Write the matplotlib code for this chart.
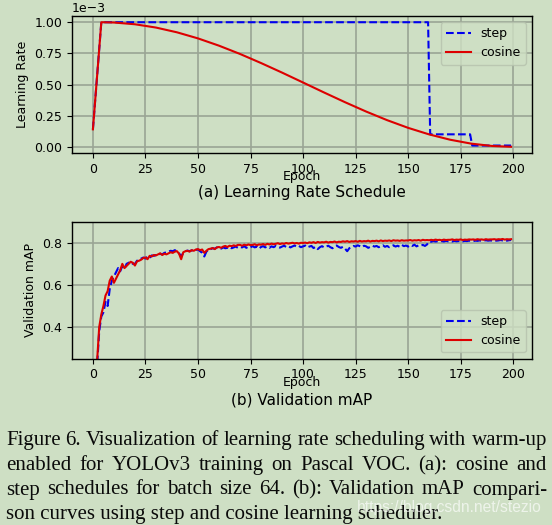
import matplotlib
matplotlib.use('Agg')
import matplotlib.pyplot as plt

# ---------------- data ----------------
step_epochs = [0, 4, 159.5, 160.5, 179.5, 180.5, 199]
step_lr = [0.14e-3, 1.0e-3, 1.0e-3, 0.1e-3, 0.1e-3, 0.01e-3, 0.01e-3]

cos_epochs = [0, 4, 10, 20, 30, 40, 50, 60, 70, 80, 90, 100, 110, 120,
              130, 140, 150, 160, 170, 180, 190, 199]
cos_lr = [0.14e-3, 1.0e-3, 0.9977e-3, 0.9836e-3, 0.9572e-3, 0.9190e-3,
          0.8702e-3, 0.8117e-3, 0.7453e-3, 0.6724e-3, 0.5956e-3, 0.5160e-3,
          0.4359e-3, 0.3577e-3, 0.2830e-3, 0.2138e-3, 0.1520e-3, 0.0994e-3,
          0.0567e-3, 0.0253e-3, 0.0064e-3, 0.0001e-3]

map_epochs = list(range(200))
map_cosine = [
    0.02, 0.10, 0.24, 0.40, 0.46, 0.50, 0.55, 0.57, 0.62, 0.64,
    0.61, 0.63, 0.65, 0.67, 0.70, 0.68, 0.69, 0.70, 0.71, 0.705,
    0.692, 0.712, 0.715, 0.72, 0.728, 0.73, 0.722, 0.738, 0.735, 0.742,
    0.74, 0.745, 0.75, 0.742, 0.748, 0.745, 0.75, 0.755, 0.752, 0.758,
    0.76, 0.748, 0.722, 0.755, 0.76, 0.762, 0.758, 0.765, 0.762, 0.768,
    0.77, 0.765, 0.768, 0.752, 0.762, 0.77, 0.772, 0.775, 0.77, 0.778,
    0.78, 0.776, 0.782, 0.785, 0.78, 0.786, 0.784, 0.788, 0.785, 0.79,
    0.79, 0.786, 0.791, 0.788, 0.792, 0.789, 0.79, 0.793, 0.788, 0.792,
    0.791, 0.794, 0.79, 0.795, 0.792, 0.796, 0.793, 0.795, 0.798, 0.794,
    0.797, 0.795, 0.799, 0.796, 0.798, 0.80, 0.797, 0.799, 0.796, 0.80,
    0.799, 0.801, 0.798, 0.802, 0.80, 0.803, 0.799, 0.804, 0.801, 0.803,
    0.802, 0.805, 0.801, 0.804, 0.803, 0.806, 0.802, 0.805, 0.804, 0.807,
    0.805, 0.808, 0.804, 0.807, 0.806, 0.808, 0.805, 0.809, 0.806, 0.808,
    0.807, 0.81, 0.806, 0.809, 0.808, 0.81, 0.807, 0.811, 0.808, 0.81,
    0.809, 0.811, 0.808, 0.812, 0.81, 0.811, 0.809, 0.812, 0.81, 0.811,
    0.811, 0.813, 0.81, 0.812, 0.811, 0.813, 0.81, 0.814, 0.812, 0.813,
    0.812, 0.814, 0.812, 0.815, 0.813, 0.814, 0.812, 0.815, 0.813, 0.814,
    0.814, 0.816, 0.813, 0.815, 0.814, 0.816, 0.813, 0.815, 0.814, 0.816,
    0.815, 0.816, 0.814, 0.817, 0.815, 0.816, 0.814, 0.817, 0.815, 0.816,
    0.816, 0.817, 0.815, 0.817, 0.816, 0.818, 0.815, 0.817, 0.816, 0.817,
]
map_step = [
    0.02, 0.09, 0.22, 0.38, 0.45, 0.47, 0.52, 0.50, 0.58, 0.62,
    0.64, 0.66, 0.68, 0.665, 0.69, 0.675, 0.70, 0.705, 0.71, 0.70,
    0.70, 0.715, 0.72, 0.725, 0.73, 0.725, 0.735, 0.728, 0.74, 0.738,
    0.742, 0.74, 0.748, 0.745, 0.752, 0.755, 0.758, 0.762, 0.76, 0.765,
    0.758, 0.75, 0.735, 0.752, 0.76, 0.763, 0.76, 0.764, 0.761, 0.766,
    0.768, 0.76, 0.752, 0.735, 0.758, 0.768, 0.77, 0.774, 0.772, 0.778,
    0.776, 0.772, 0.778, 0.774, 0.776, 0.78, 0.774, 0.778, 0.782, 0.776,
    0.78, 0.778, 0.784, 0.776, 0.782, 0.779, 0.784, 0.778, 0.782, 0.772,
    0.78, 0.784, 0.778, 0.782, 0.776, 0.783, 0.779, 0.785, 0.78, 0.777,
    0.782, 0.786, 0.78, 0.784, 0.778, 0.783, 0.787, 0.781, 0.785, 0.779,
    0.783, 0.787, 0.778, 0.782, 0.785, 0.775, 0.781, 0.77, 0.779, 0.784,
    0.778, 0.782, 0.786, 0.779, 0.774, 0.783, 0.787, 0.78, 0.776, 0.781,
    0.772, 0.76, 0.774, 0.78, 0.785, 0.782, 0.788, 0.784, 0.779, 0.786,
    0.783, 0.776, 0.781, 0.786, 0.782, 0.785, 0.779, 0.784, 0.788, 0.781,
    0.785, 0.779, 0.783, 0.788, 0.782, 0.786, 0.781, 0.79, 0.784, 0.787,
    0.782, 0.789, 0.785, 0.791, 0.783, 0.788, 0.786, 0.79, 0.785, 0.792,
    0.806, 0.805, 0.808, 0.806, 0.807, 0.805, 0.808, 0.806, 0.809, 0.807,
    0.808, 0.806, 0.809, 0.807, 0.808, 0.81, 0.807, 0.809, 0.808, 0.81,
    0.809, 0.808, 0.81, 0.809, 0.811, 0.809, 0.81, 0.812, 0.81, 0.811,
    0.81, 0.812, 0.81, 0.811, 0.813, 0.811, 0.812, 0.81, 0.812, 0.813,
]

caption_lines = [
    "Figure 6. Visualization of learning rate scheduling with warm-up",
    "enabled for YOLOv3 training on Pascal VOC. (a): cosine and",
    "step schedules for batch size 64. (b): Validation mAP compari-",
    "son curves using step and cosine learning scheduler.",
]
watermark = "https://blog.csdn.net/stezio"

# ---------------- style ----------------
W, H = 552, 525
bg = '#cedfc4'
blue = '#0000ee'
red = '#dd0000'
gridc = '#9aa594'

fig = plt.figure(figsize=(W / 100, H / 100), dpi=100, facecolor=bg)
ax1 = fig.add_axes([72 / W, 1 - 153 / H, 460 / W, 137 / H])
ax2 = fig.add_axes([72 / W, 1 - 358.7 / H, 460 / W, 137 / H])

for ax in (ax1, ax2):
    ax.set_facecolor(bg)
    ax.grid(True, color=gridc, lw=1.2)
    ax.set_axisbelow(True)
    ax.tick_params(labelsize=9)
    for s in ax.spines.values():
        s.set_linewidth(1.0)
    ax.set_xticks([0, 25, 50, 75, 100, 125, 150, 175, 200])
    ax.set_xlabel('Epoch', fontsize=9, labelpad=-4)

ax1.plot(step_epochs, step_lr, '--', color=blue, lw=1.5, label='step')
ax1.plot(cos_epochs, cos_lr, '-', color=red, lw=1.5, label='cosine')
ax1.set_yticks([0, 0.25e-3, 0.5e-3, 0.75e-3, 1.0e-3])
ax1.ticklabel_format(axis='y', style='sci', scilimits=(0, 0))
ax1.set_ylabel('Learning Rate', fontsize=9)
ax1.yaxis.get_offset_text().set_fontsize(9)
ax1.legend(loc='upper right', fontsize=9, facecolor=bg, edgecolor='#b5c2ad',
           framealpha=0.8)

ax2.plot(map_epochs, map_step, '--', color=blue, lw=1.5, label='step')
ax2.plot(map_epochs, map_cosine, '-', color=red, lw=1.5, label='cosine')
ax2.set_ylim(0.25, 0.9)
ax2.set_yticks([0.4, 0.6, 0.8])
ax2.set_ylabel('Validation mAP', fontsize=9)
ax2.legend(loc='lower right', fontsize=9, facecolor=bg, edgecolor='#b5c2ad',
           framealpha=0.8)

fig.text(302 / W, 1 - 193 / H, '(a) Learning Rate Schedule', ha='center',
         va='center', fontsize=11)
fig.text(302 / W, 1 - 400 / H, '(b) Validation mAP', ha='center',
         va='center', fontsize=11)

# ---------------- caption (justified) ----------------
renderer = fig.canvas.get_renderer()
serif = 'Liberation Serif'


def text_width(s, fs, family):
    t = fig.text(0, 0, s, fontsize=fs, family=family)
    w = t.get_window_extent(renderer).width
    t.remove()
    return w


x0, x1 = 6, 547
fs_cap = 1.02 * 10 * 427 / text_width(caption_lines[3], 10, serif)
baselines = [445, 470, 494.5, 519]
for i, (line, yb) in enumerate(zip(caption_lines, baselines)):
    words = line.split(' ')
    if i < len(caption_lines) - 1:
        widths = [text_width(w, fs_cap, serif) for w in words]
        gap = (x1 - x0 - sum(widths)) / (len(words) - 1)
        x = x0
        for w, wd in zip(words, widths):
            fig.text(x / W, 1 - yb / H, w, fontsize=fs_cap, family=serif,
                     va='baseline', ha='left', color='#0a0a0a')
            x += wd + gap
    else:
        fig.text(x0 / W, 1 - yb / H, line, fontsize=fs_cap, family=serif,
                 va='baseline', ha='left', color='#0a0a0a')

# watermark
fs_wm = 10 * 185 / text_width(watermark, 10, 'Liberation Sans')
fig.text(357 / W, 1 - 512 / H, watermark, fontsize=fs_wm,
         family='Liberation Sans', color='white', alpha=0.65, va='baseline',
         ha='left')

fig.savefig('out.png', dpi=100, facecolor=bg)
